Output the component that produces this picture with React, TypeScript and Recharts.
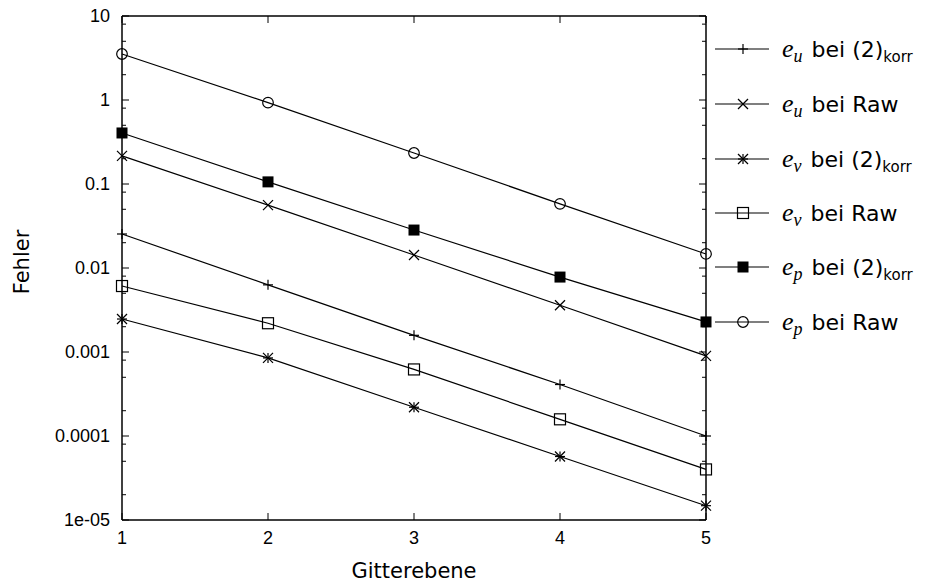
import { Line, LineChart, XAxis, YAxis } from 'recharts';

const levels = [1, 2, 3, 4, 5];
const euKorr = [0.0254, 0.0063, 0.00158, 0.00041, 0.0001];
const euRaw = [0.216, 0.056, 0.0143, 0.0036, 0.0009];
const evKorr = [0.00247, 0.00085, 0.00022, 0.000057, 0.0000148];
const evRaw = [0.0061, 0.0022, 0.00062, 0.000158, 0.00004];
const epKorr = [0.405, 0.106, 0.0283, 0.0078, 0.00228];
const epRaw = [3.53, 0.93, 0.234, 0.058, 0.0147];

const xTicks = [1, 2, 3, 4, 5];
const yMajorTicks = [1e-5, 1e-4, 1e-3, 1e-2, 0.1, 1, 10];
const yMajorLabels = ['1e-05', '0.0001', '0.001', '0.01', '0.1', '1', '10'];
const yMinorSteps = [2, 5, 8];

const yMinorTicks = yMajorTicks.slice(0, -1).flatMap((d) => yMinorSteps.map((m) => d * m));
const yTicks = [...yMajorTicks, ...yMinorTicks].sort((a, b) => a - b);

type MarkerKind = 'plus' | 'cross' | 'star' | 'square' | 'filledSquare' | 'circle';

const series: { key: string; sym: string; method: string; korr: boolean; marker: MarkerKind; values: number[] }[] = [
  { key: 'euKorr', sym: 'u', method: 'bei (2)', korr: true, marker: 'plus', values: euKorr },
  { key: 'euRaw', sym: 'u', method: 'bei Raw', korr: false, marker: 'cross', values: euRaw },
  { key: 'evKorr', sym: 'v', method: 'bei (2)', korr: true, marker: 'star', values: evKorr },
  { key: 'evRaw', sym: 'v', method: 'bei Raw', korr: false, marker: 'square', values: evRaw },
  { key: 'epKorr', sym: 'p', method: 'bei (2)', korr: true, marker: 'filledSquare', values: epKorr },
  { key: 'epRaw', sym: 'p', method: 'bei Raw', korr: false, marker: 'circle', values: epRaw },
];

const data = levels.map((x, i) => {
  const row: Record<string, number> = { x };
  series.forEach((s) => (row[s.key] = s.values[i]));
  return row;
});

const tickFont = '"Liberation Sans", Arial, sans-serif';
const labelFont = '"DejaVu Sans", sans-serif';

function Marker({ kind, cx, cy }: { kind: MarkerKind; cx: number; cy: number }) {
  const st = { stroke: '#000', strokeWidth: 1.2, fill: 'none' };
  switch (kind) {
    case 'plus':
      return (
        <g {...st}>
          <line x1={cx - 5} y1={cy} x2={cx + 5} y2={cy} />
          <line x1={cx} y1={cy - 5} x2={cx} y2={cy + 5} />
        </g>
      );
    case 'cross':
      return (
        <g {...st}>
          <line x1={cx - 5} y1={cy - 5} x2={cx + 5} y2={cy + 5} />
          <line x1={cx - 5} y1={cy + 5} x2={cx + 5} y2={cy - 5} />
        </g>
      );
    case 'star':
      return (
        <g {...st}>
          <line x1={cx - 5} y1={cy} x2={cx + 5} y2={cy} />
          <line x1={cx} y1={cy - 5} x2={cx} y2={cy + 5} />
          <line x1={cx - 5} y1={cy - 5} x2={cx + 5} y2={cy + 5} />
          <line x1={cx - 5} y1={cy + 5} x2={cx + 5} y2={cy - 5} />
        </g>
      );
    case 'square':
      return <rect x={cx - 5.5} y={cy - 5.5} width={11} height={11} {...st} />;
    case 'filledSquare':
      return <rect x={cx - 5.5} y={cy - 5.5} width={11} height={11} fill="#000" />;
    default:
      return <circle cx={cx} cy={cy} r={5.3} {...st} />;
  }
}

const LeftTick = (props: any) => {
  const { x, y, payload } = props;
  const i = yMajorTicks.indexOf(payload.value);
  return (
    <g>
      <line x1={x} y1={y} x2={x + (i >= 0 ? 7 : 4)} y2={y} stroke="#000" />
      {i >= 0 && (
        <text x={x - 12} y={y} textAnchor="end" dominantBaseline="central" fontSize={18} fontFamily={tickFont} fill="#000">
          {yMajorLabels[i]}
        </text>
      )}
    </g>
  );
};

const RightTick = (props: any) => {
  const { x, y, payload } = props;
  const major = yMajorTicks.includes(payload.value);
  return <line x1={x} y1={y} x2={x - (major ? 7 : 4)} y2={y} stroke="#000" />;
};

const BottomTick = (props: any) => {
  const { x, y, payload } = props;
  return (
    <g>
      <line x1={x} y1={y} x2={x} y2={y - 7} stroke="#000" />
      <text x={x} y={y + 18} textAnchor="middle" dominantBaseline="central" fontSize={18} fontFamily={tickFont} fill="#000">
        {payload.value}
      </text>
    </g>
  );
};

const TopTick = (props: any) => {
  const { x, y } = props;
  return <line x1={x} y1={y} x2={x} y2={y + 7} stroke="#000" />;
};

const legendRowY = [49, 104, 159, 213, 267, 322];

function LegendRows() {
  return (
    <>
      {series.map((s, i) => (
        <div
          key={s.key}
          style={{ position: 'absolute', left: 712, top: legendRowY[i] - 20, height: 40, display: 'flex', alignItems: 'center' }}
        >
          <svg width={62} height={40} style={{ display: 'block' }}>
            <line x1={3} y1={20} x2={57} y2={20} stroke="#000" strokeWidth={1.2} />
            <Marker kind={s.marker} cx={31} cy={20} />
          </svg>
          <span style={{ marginLeft: 8, fontFamily: labelFont, fontSize: 22, color: '#000', whiteSpace: 'nowrap' }}>
            <span style={{ fontFamily: '"Liberation Serif", serif', fontStyle: 'italic', fontSize: 26 }}>e</span>
            <span style={{ fontFamily: '"Liberation Serif", serif', fontStyle: 'italic', fontSize: 18, position: 'relative', top: 5 }}>
              {s.sym}
            </span>
            <span style={{ marginLeft: 9 }}>{s.method}</span>
            {s.korr && <span style={{ fontSize: 15, position: 'relative', top: 5 }}>korr</span>}
          </span>
        </div>
      ))}
    </>
  );
}

export default function App() {
  return (
    <div style={{ margin: -8, position: 'relative', width: 927, height: 586, background: '#fff' }}>
      <LineChart width={927} height={586} data={data} margin={{ top: 15, right: 220, bottom: 36, left: 62 }}>
        <XAxis
          xAxisId="b"
          dataKey="x"
          type="number"
          domain={[1, 5]}
          ticks={xTicks}
          interval={0}
          height={30}
          tickSize={0}
          tickMargin={0}
          tick={<BottomTick />}
          axisLine={{ stroke: '#000', strokeWidth: 1.5 }}
        />
        <XAxis
          xAxisId="t"
          dataKey="x"
          orientation="top"
          type="number"
          domain={[1, 5]}
          ticks={xTicks}
          interval={0}
          height={1}
          tickSize={0}
          tickMargin={0}
          tick={<TopTick />}
          axisLine={{ stroke: '#000', strokeWidth: 1.5 }}
        />
        <YAxis
          yAxisId="l"
          type="number"
          scale="log"
          domain={[1e-5, 10]}
          allowDataOverflow
          ticks={yTicks}
          interval={0}
          width={60}
          tickSize={0}
          tickMargin={0}
          tick={<LeftTick />}
          axisLine={{ stroke: '#000', strokeWidth: 1.5 }}
        />
        <YAxis
          yAxisId="r"
          orientation="right"
          type="number"
          scale="log"
          domain={[1e-5, 10]}
          allowDataOverflow
          ticks={yTicks}
          interval={0}
          width={1}
          tickSize={0}
          tickMargin={0}
          tick={<RightTick />}
          axisLine={{ stroke: '#000', strokeWidth: 1.5 }}
        />
        <Line
          xAxisId="t"
          yAxisId="r"
          dataKey="epRaw"
          stroke="none"
          dot={false}
          activeDot={false}
          legendType="none"
          isAnimationActive={false}
        />
        {series.map((s) => (
          <Line
            key={s.key}
            xAxisId="b"
            yAxisId="l"
            dataKey={s.key}
            stroke="#000"
            strokeWidth={1.2}
            isAnimationActive={false}
            dot={(p: any) => (
              <g key={`${s.key}-${p.index}`}>
                <Marker kind={s.marker} cx={p.cx} cy={p.cy} />
              </g>
            )}
            activeDot={false}
          />
        ))}
      </LineChart>
      <div
        style={{
          position: 'absolute',
          left: 414,
          top: 571,
          transform: 'translate(-50%, -50%)',
          fontFamily: labelFont,
          fontSize: 21,
          whiteSpace: 'nowrap',
        }}
      >
        Gitterebene
      </div>
      <div
        style={{
          position: 'absolute',
          left: 22,
          top: 262,
          transform: 'translate(-50%, -50%) rotate(-90deg)',
          fontFamily: labelFont,
          fontSize: 21,
          whiteSpace: 'nowrap',
        }}
      >
        Fehler
      </div>
      <LegendRows />
    </div>
  );
}
